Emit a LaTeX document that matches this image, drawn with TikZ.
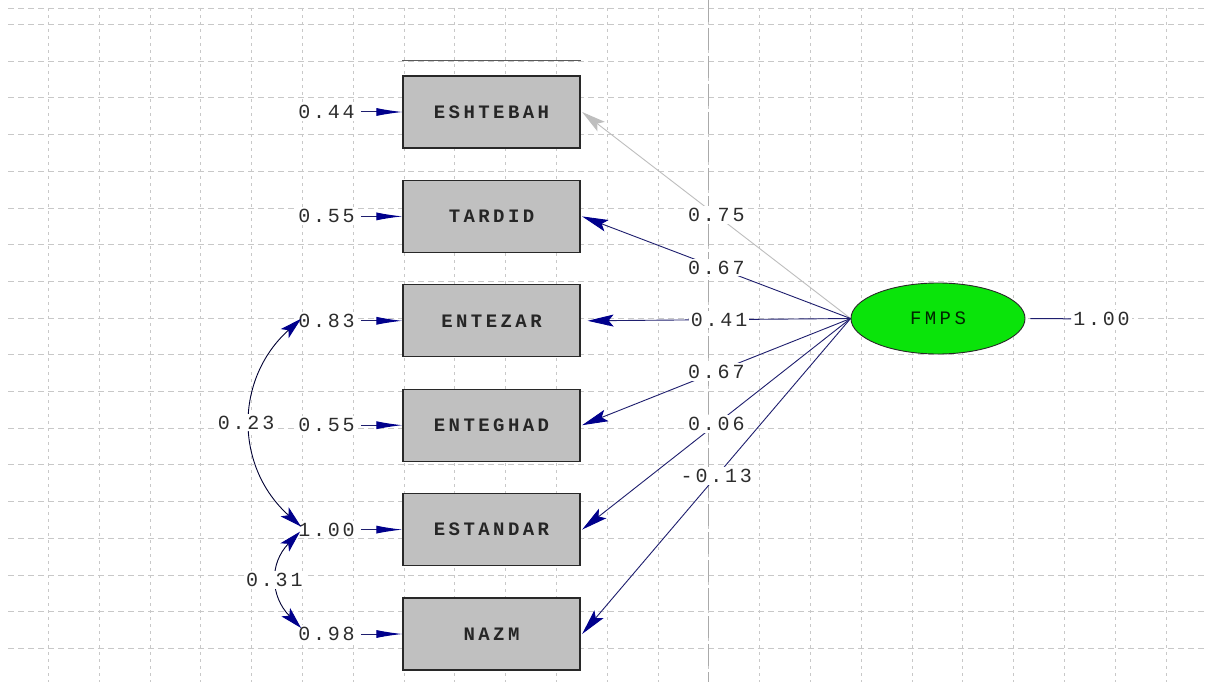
\documentclass[tikz,border=0pt]{standalone}
\usepackage{fontspec}
\usetikzlibrary{arrows.meta,shapes.geometric}
\newfontfamily\lisfont[LetterSpace=14]{Liberation Mono}
\newfontfamily\lisboxfont[LetterSpace=18]{Liberation Mono}

\definecolor{gridgray}{RGB}{200,200,200}
\definecolor{axisgray}{RGB}{170,170,170}
\definecolor{boxgray}{RGB}{192,192,192}
\definecolor{boxedge}{RGB}{40,40,40}
\definecolor{numgray}{RGB}{45,45,45}
\definecolor{linenavy}{RGB}{30,30,110}
\definecolor{headnavy}{RGB}{0,0,140}
\definecolor{fadegray}{RGB}{190,190,190}
\definecolor{latentgreen}{RGB}{10,228,10}

\tikzset{
  hgrid/.style={gridgray, line width=0.9pt, dash pattern=on 6pt off 4pt},
  vgrid/.style={gridgray, line width=0.9pt, dash pattern=on 3pt off 4pt},
  axisline/.style={axisgray, line width=1.3pt, dash pattern=on 22pt off 6pt},
  obs/.style={rectangle, draw=boxedge, line width=1.2pt, fill=boxgray,
    minimum width=177pt, minimum height=72pt, inner sep=0pt,
    font=\lisboxfont\bfseries\fontsize{19}{19}\selectfont, text=black!85},
  latent/.style={ellipse, draw=boxedge, line width=0.9pt, fill=latentgreen,
    minimum width=174pt, minimum height=71pt, inner sep=0pt,
    font=\lisboxfont\fontsize{19}{19}\selectfont, text=black!85!green},
  num/.style={fill=white, inner sep=2pt, text=numgray,
    font=\lisfont\fontsize{20}{20}\selectfont},
  errarrow/.style={linenavy, line width=1pt, shorten <=4pt,
    -{Latex[length=26pt,width=8pt,color=headnavy]}},
  loading/.style={linenavy, line width=0.9pt,
    -{Stealth[length=26pt,width=12pt,inset=5pt,color=headnavy]}},
  fadeloading/.style={fadegray, line width=0.9pt,
    -{Stealth[length=24pt,width=12pt,inset=5pt,color=fadegray]}},
  covarrow/.style={black!80!blue, line width=0.9pt,
    {Stealth[length=22pt,width=12pt,inset=5pt,color=headnavy]}-{Stealth[length=22pt,width=12pt,inset=5pt,color=headnavy]}},
  plainline/.style={linenavy, line width=1pt},
}

\begin{document}
\begin{tikzpicture}[x=1pt,y=-1pt]
\fill[white] (0,0) rectangle (1206,682);
\useasboundingbox (0,0) rectangle (1206,682);

% background grid
\foreach \k in {0,...,22}
  \draw[vgrid] (48.5+50.8*\k,8) -- (48.5+50.8*\k,682);
\draw[hgrid] (8,8.3) -- (1206,8.3);
\foreach \k in {0,...,17}
  \draw[hgrid] (8,24.5+36.7*\k) -- (1206,24.5+36.7*\k);
\draw[axisline] (708.6,0) -- (708.6,682);

% observed variables
\node[obs] (b1) at (491.5,112)   {ESHTEBAH};
\node[obs] (b2) at (491.5,216.4) {TARDID};
\node[obs] (b3) at (491.5,320.8) {ENTEZAR};
\node[obs] (b4) at (491.5,425.2) {ENTEGHAD};
\node[obs] (b5) at (491.5,529.6) {ESTANDAR};
\node[obs] (b6) at (491.5,634)   {NAZM};
\draw[black!65, line width=0.8pt] ([yshift=14.5pt]b1.north west) -- ([yshift=14.5pt]b1.north east);

% error variances
\node[num] (e1) at (326.5,112)   {0.44};
\node[num] (e2) at (326.5,216.4) {0.55};
\node[num] (e3) at (326.5,320.8) {0.83};
\node[num] (e4) at (326.5,425.2) {0.55};
\node[num] (e5) at (326.5,529.6) {1.00};
\node[num] (e6) at (326.5,634)   {0.98};
\foreach \i in {1,...,6}
  \draw[errarrow] (e\i) -- (b\i.west);

% latent variable and loadings
\node[latent] (f) at (938,318.5) {FMPS};
\node[num] (fr) at (1101.5,319) {1.00};
\draw[plainline, shorten <=5pt] (f.east) -- (fr);

\draw[fadeloading] (f.west) -- ([xshift=1.5pt]b1.east) node[num,pos=0.5] {0.75};
\draw[loading] (f.west) -- ([xshift=1.5pt]b2.east) node[num,pos=0.5] {0.67};
\draw[loading] (f.west) -- ([xshift=7pt]b3.east) node[num,pos=0.5] {0.41};
\draw[loading] (f.west) -- ([xshift=1.5pt]b4.east) node[num,pos=0.5] {0.67};
\draw[loading] (f.west) -- ([xshift=1.5pt]b5.east) node[num,pos=0.5] {0.06};
\draw[loading] (f.west) -- ([xshift=1.5pt]b6.east) node[num,pos=0.5] {-0.13};

% error covariances
\coordinate (k3) at ([xshift=5pt,yshift=2pt]e3.west);
\coordinate (k5a) at ([xshift=5pt,yshift=3pt]e5.west);
\coordinate (k5b) at ([xshift=4pt,yshift=-2pt]e5.west);
\coordinate (k6) at ([xshift=5pt,yshift=6pt]e6.west);
\draw[covarrow] (k3) .. controls +(-66.7,60) and +(-66.7,-60) .. (k5a)
  node[num,pos=0.5,xshift=-5pt] {0.23};
\draw[covarrow] (k5b) .. controls +(-31,32) and +(-31,-32) .. (k6)
  node[num,pos=0.5,xshift=-3pt] {0.31};
\end{tikzpicture}
\end{document}
